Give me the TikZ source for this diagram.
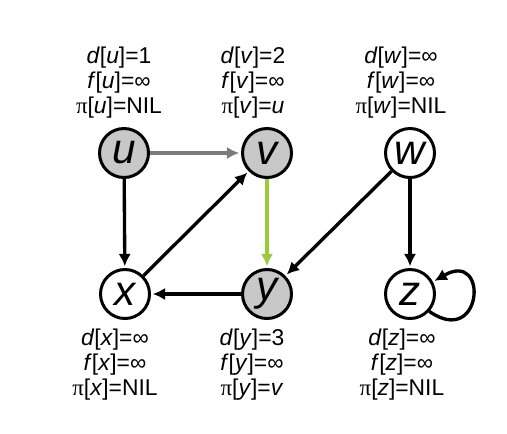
\documentclass[tikz,border=0pt]{standalone}
\usepackage{fontspec}
\setmainfont{Liberation Sans}
\newfontfamily\symfont{Liberation Serif}
\usetikzlibrary{arrows.meta}
\definecolor{nodegray}{HTML}{C8C8C8}
\definecolor{edgegray}{HTML}{7C7C7C}
\definecolor{treegreen}{HTML}{9BCB3C}
\newcommand{\pilab}{{\symfont π}}
\begin{document}
\begin{tikzpicture}[
    vtx/.style={draw,shape=circle,line width=1.7pt,minimum size=0.98cm,inner sep=0pt,font=\fontsize{24}{24}\selectfont\itshape},
    grayvtx/.style={vtx,fill=nodegray},
    lab/.style={align=center,font=\fontsize{13}{14.2}\selectfont},
    link/.style={line width=1.9pt,-{Latex[length=7pt,width=7pt]}},
    shorten >=1pt]
    \useasboundingbox (0,0) rectangle (10.14,-8.66);
    \node[grayvtx] (u) at (2.48,-3.06) {u};
    \node[grayvtx] (v) at (5.34,-3.06) {v};
    \node[vtx] (w) at (8.2,-3.06) {w};
    \node[vtx] (x) at (2.5,-5.88) {x};
    \node[grayvtx] (y) at (5.34,-5.88) {y};
    \node[vtx] (z) at (8.2,-5.88) {z};
    \node[lab] (lu) at (2.38,-1.66) {\textit{d}[\textit{u}]=1\\ \textit{f}[\textit{u}]=∞\\ \pilab[\textit{u}]=NIL};
    \node[lab] (lv) at (5.06,-1.66) {\textit{d}[\textit{v}]=2\\ \textit{f}[\textit{v}]=∞\\ \pilab[\textit{v}]=\textit{u}};
    \node[lab] (lw) at (8.02,-1.66) {\textit{d}[\textit{w}]=∞\\ \textit{f}[\textit{w}]=∞\\ \pilab[\textit{w}]=NIL};
    \node[lab] (lx) at (2.3,-7.3) {\textit{d}[\textit{x}]=∞\\ \textit{f}[\textit{x}]=∞\\ \pilab[\textit{x}]=NIL};
    \node[lab] (ly) at (5.04,-7.3) {\textit{d}[\textit{y}]=3\\ \textit{f}[\textit{y}]=∞\\ \pilab[\textit{y}]=\textit{v}};
    \node[lab] (lz) at (8.04,-7.3) {\textit{d}[\textit{z}]=∞\\ \textit{f}[\textit{z}]=∞\\ \pilab[\textit{z}]=NIL};
    \draw[link,edgegray] (u) -- (v);
    \draw[link] (u) -- (x);
    \draw[link] (x) -- (v);
    \draw[link,treegreen] (v) -- (y);
    \draw[link] (w) -- (y);
    \draw[link] (w) -- (z);
    \draw[link] (y) -- (x);
    \draw[link] (z.-42) to[out=-35,in=30,looseness=5.6] (z.28);
\end{tikzpicture}
\end{document}
